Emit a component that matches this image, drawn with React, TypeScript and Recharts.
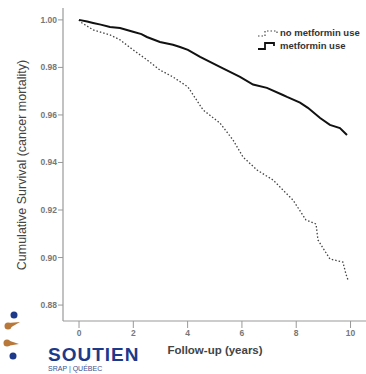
import React from "react";
import { LineChart, Line, XAxis, YAxis } from "recharts";

const xTicks = [0, 2, 4, 6, 8, 10];
const yTicks = [0.88, 0.9, 0.92, 0.94, 0.96, 0.98, 1.0];

const metforminYears = [0, 0.3, 0.52, 0.8, 1.14, 1.51, 1.99, 2.3, 2.5, 2.98, 3.46, 3.72, 4.01, 4.46, 5.19, 5.93, 6.41, 6.92, 7.51, 7.66, 8.14, 8.43, 8.88, 9.24, 9.61, 9.87];
const metforminSurv = [1.0, 0.9993, 0.9987, 0.998, 0.997, 0.9966, 0.995, 0.994, 0.9928, 0.9907, 0.9895, 0.9886, 0.9874, 0.9844, 0.9802, 0.976, 0.9728, 0.9714, 0.9684, 0.9676, 0.9652, 0.963, 0.9587, 0.9558, 0.9545, 0.9516];

const noMetforminYears = [0, 0.04, 0.52, 1.14, 1.51, 1.99, 2.5, 2.98, 3.46, 4.01, 4.57, 5.19, 5.67, 6.04, 6.56, 7.15, 7.51, 7.88, 8.36, 8.73, 8.8, 9.24, 9.72, 9.83, 9.91];
const noMetforminSurv = [1.0, 0.9992, 0.9958, 0.9937, 0.9916, 0.9874, 0.9832, 0.9789, 0.976, 0.9718, 0.9621, 0.9566, 0.9495, 0.9423, 0.9368, 0.9326, 0.9284, 0.9242, 0.9158, 0.9141, 0.9074, 0.8994, 0.8981, 0.8931, 0.8905];

const seriesNames = ["no metformin use", "metformin use"];

const metforminData = metforminYears.map((t, i) => ({ t, v: metforminSurv[i] }));
const noMetforminData = noMetforminYears.map((t, i) => ({ t, v: noMetforminSurv[i] }));

const FONT = "Liberation Sans, Arial, sans-serif";
const tickStyle = { fontSize: 8.5, fill: "#777", fontFamily: FONT, fontWeight: "bold" };

const ChartLegend = () => (
  <div style={{ position: "absolute", left: 257, top: 26, fontFamily: FONT, fontSize: 9.5, fontWeight: "bold", color: "#333", lineHeight: "13px" }}>
    <div style={{ display: "flex", alignItems: "center", whiteSpace: "nowrap" }}>
      <svg width={23} height={10}>
        <path d="M1,8 L8,8 L8,3 L20,3 L20,6" fill="none" stroke="#444" strokeWidth={1.2} strokeDasharray="1.5 2" />
      </svg>
      <span>{seriesNames[0]}</span>
    </div>
    <div style={{ display: "flex", alignItems: "center", whiteSpace: "nowrap" }}>
      <svg width={23} height={10}>
        <path d="M1,8 L8,8 L8,2 L17,2 L17,5" fill="none" stroke="#111" strokeWidth={1.8} />
      </svg>
      <span>{seriesNames[1]}</span>
    </div>
  </div>
);

export default function App() {
  return (
    <div style={{ position: "absolute", left: 0, top: 0, width: 366, height: 374, background: "#fff", overflow: "hidden" }}>
      <LineChart width={366} height={374} margin={{ top: 8, right: 0, bottom: 23, left: 23 }}>
        <XAxis
          type="number"
          dataKey="t"
          domain={[-0.59, 10.57]}
          ticks={xTicks}
          tick={tickStyle}
          tickLine={{ stroke: "#999" }}
          axisLine={{ stroke: "#999", strokeWidth: 1.2 }}
          tickSize={7}
          height={30}
          allowDataOverflow
        />
        <YAxis
          type="number"
          dataKey="v"
          domain={[0.8733, 1.005]}
          ticks={yTicks}
          tick={tickStyle}
          tickFormatter={(v: number) => v.toFixed(2)}
          tickLine={{ stroke: "#999" }}
          axisLine={{ stroke: "#999", strokeWidth: 1.2 }}
          tickSize={5}
          tickMargin={1}
          width={40}
          allowDataOverflow
        />
        <Line
          data={noMetforminData}
          dataKey="v"
          name={seriesNames[0]}
          type="linear"
          stroke="#444"
          strokeWidth={1.3}
          strokeDasharray="1.5 2"
          dot={false}
          isAnimationActive={false}
        />
        <Line
          data={metforminData}
          dataKey="v"
          name={seriesNames[1]}
          type="linear"
          stroke="#111"
          strokeWidth={2}
          dot={false}
          isAnimationActive={false}
        />
      </LineChart>
      <ChartLegend />
      <div
        style={{
          position: "absolute",
          left: 22,
          top: 165,
          transform: "translate(-50%, -50%) rotate(-90deg)",
          whiteSpace: "nowrap",
          fontFamily: FONT,
          fontSize: 12.5,
          color: "#444",
        }}
      >
        Cumulative Survival (cancer mortality)
      </div>
      <div
        style={{
          position: "absolute",
          left: 215,
          top: 350,
          transform: "translate(-50%, -50%)",
          whiteSpace: "nowrap",
          fontFamily: FONT,
          fontSize: 11.5,
          fontWeight: "bold",
          color: "#444",
        }}
      >
        Follow-up (years)
      </div>
      <div style={{ position: "absolute", left: 48, top: 345, fontFamily: FONT, fontWeight: "bold", fontSize: 19, color: "#1d3a8a", lineHeight: "19px", letterSpacing: 1, whiteSpace: "nowrap" }}>
        SOUTIEN
      </div>
      <div style={{ position: "absolute", left: 48, top: 365, fontFamily: FONT, fontSize: 7, color: "#3a4f8f", whiteSpace: "nowrap" }}>
        SRAP | QUÉBEC
      </div>
      <svg style={{ position: "absolute", left: 0, top: 305 }} width={40} height={60}>
        <circle cx={14} cy={10} r={3.5} fill="#1d3a8a" />
        <circle cx={8} cy={21} r={3.5} fill="#b8783a" />
        <path d="M8,18 L20,17 L8,24 Z" fill="#b8783a" />
        <circle cx={7} cy={38} r={3.5} fill="#b8783a" />
        <path d="M7,35 L19,39 L7,41 Z" fill="#b8783a" />
        <circle cx={13} cy={51} r={3.5} fill="#1d3a8a" />
      </svg>
    </div>
  );
}
